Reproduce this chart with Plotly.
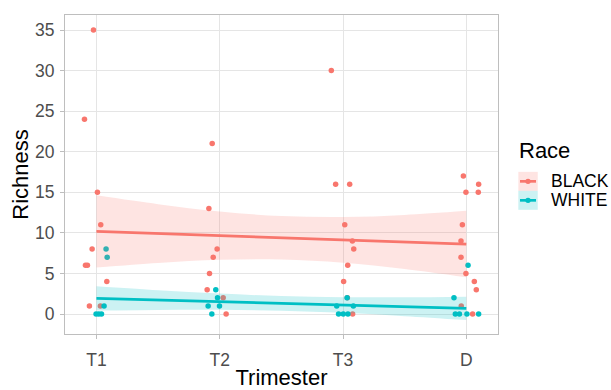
import plotly.graph_objects as go

# ---------------- data ----------------
categories = ["T1", "T2", "T3", "D"]
cat_pos = [1, 2, 3, 4]
y_ticks = [0, 5, 10, 15, 20, 25, 30, 35]

# jittered positions (x) and richness values (y)
black_x = [0.976, 0.903, 1.008, 1.035, 0.965, 0.911, 0.927, 1.084, 0.943, 1.032,
           1.939, 1.912, 1.979, 1.947, 1.917, 1.898, 2.028, 2.052,
           2.905, 2.940, 3.054, 3.014, 3.076, 3.087, 3.038, 3.005, 3.035, 3.078,
           3.976, 4.100, 3.997, 4.097, 3.968, 3.957, 3.957, 3.997, 4.065, 4.081, 3.959, 4.051]
black_y = [35, 24, 15, 11, 8, 6, 6, 4, 1, 1,
           21, 13, 8, 7, 5, 3, 2, 0,
           30, 16, 16, 11, 9, 8, 6, 4, 2, 0,
           17, 16, 15, 15, 11, 9, 7, 5, 4, 3, 1, 0]

white_x = [1.078, 1.087, 1.062, 0.997, 1.019, 1.041,
           1.968, 1.982, 1.906, 1.998, 1.936,
           3.033, 2.949, 3.084, 2.964, 3.002, 3.040,
           4.014, 3.900, 3.911, 3.944, 4.005, 4.100]
white_y = [8, 7, 1, 0, 0, 0,
           3, 2, 1, 1, 0,
           2, 1, 1, 0, 0, 0,
           6, 2, 0, 0, 0, 0]

# linear fit and confidence band
fit_x = [1, 1.5, 2, 2.5, 3, 3.5, 4]
black_fit = [10.18, 9.92, 9.66, 9.40, 9.14, 8.88, 8.62]
black_lo = [5.73, 6.30, 6.68, 6.72, 6.33, 5.55, 4.52]
black_hi = [14.63, 13.54, 12.64, 12.08, 11.95, 12.21, 12.72]
white_fit = [1.93, 1.725, 1.52, 1.315, 1.11, 0.905, 0.70]
white_lo = [0.43, 0.51, 0.53, 0.41, 0.15, -0.26, -0.74]
white_hi = [3.43, 2.94, 2.52, 2.22, 2.08, 2.07, 2.14]

groups = ["BLACK", "WHITE"]

# ---------------- style ----------------
RED = "#F8766D"
TEAL = "#00BFC4"
RED_FILL = "rgba(248,118,109,0.2)"
TEAL_FILL = "rgba(0,191,196,0.2)"
FONT = "Liberation Sans, Arial, Helvetica, sans-serif"
TICK_SIZE = 17.5
TITLE_SIZE = 22

W, H = 611, 390
ML, MR, MT, MB = 65.3, 113, 15, 55.7
PW = W - ML - MR
PH = H - MT - MB


def px2x(px):
    return (px - ML) / PW


def px2y(py):
    return (H - MB - py) / PH


fig = go.Figure()

# points
fig.add_trace(go.Scatter(x=black_x, y=black_y, mode="markers", name=groups[0],
                         marker=dict(color=RED, size=5.5, line=dict(width=0)),
                         showlegend=False))
fig.add_trace(go.Scatter(x=white_x, y=white_y, mode="markers", name=groups[1],
                         marker=dict(color=TEAL, size=5.5, line=dict(width=0)),
                         showlegend=False))

# ribbons + lines
for lo, hi, fill in [(black_lo, black_hi, RED_FILL), (white_lo, white_hi, TEAL_FILL)]:
    fig.add_trace(go.Scatter(x=fit_x, y=lo, mode="lines", line=dict(width=0, shape="spline"),
                             showlegend=False, hoverinfo="skip"))
    fig.add_trace(go.Scatter(x=fit_x, y=hi, mode="lines", line=dict(width=0, shape="spline"),
                             fill="tonexty", fillcolor=fill, showlegend=False, hoverinfo="skip"))
for fit, col in [(black_fit, RED), (white_fit, TEAL)]:
    fig.add_trace(go.Scatter(x=fit_x, y=fit, mode="lines", line=dict(color=col, width=2.7),
                             showlegend=False))

fig.update_layout(
    width=W, height=H,
    margin=dict(l=ML, r=MR, t=MT, b=MB, pad=0),
    plot_bgcolor="white", paper_bgcolor="white",
    font=dict(family=FONT, color="black"),
    showlegend=False,
)

axis_common = dict(showgrid=True, gridcolor="#E5E5E5", gridwidth=1,
                   showline=True, linecolor="#BEBEBE", linewidth=1, mirror=True,
                   ticks="outside", ticklen=4, tickcolor="#BEBEBE", tickwidth=1,
                   zeroline=False, automargin=False,
                   tickfont=dict(size=TICK_SIZE, color="#4D4D4D", family=FONT))

fig.update_xaxes(range=[0.745, 4.257], tickvals=cat_pos, ticktext=categories,
                 ticklabelstandoff=6,
                 title=dict(text="Trimester", font=dict(size=TITLE_SIZE, color="black", family=FONT), standoff=3),
                 **axis_common)
fig.update_yaxes(range=[-2.46, 36.85], tickvals=y_ticks,
                 ticklabelstandoff=2,
                 title=dict(text="Richness", font=dict(size=TITLE_SIZE, color="black", family=FONT), standoff=0),
                 **axis_common)

# ---------------- legend (drawn manually, ggplot style) ----------------
shapes = []
annotations = []
annotations.append(dict(text="Race", x=px2x(517), y=px2y(151), xref="paper", yref="paper",
                        xanchor="left", yanchor="middle", showarrow=False,
                        font=dict(size=TITLE_SIZE, color="black", family=FONT)))
key_rows = [(groups[0], RED, RED_FILL, 172, 191), (groups[1], TEAL, TEAL_FILL, 191, 210)]
for label, col, fill, top, bot in key_rows:
    mid = (top + bot) / 2
    shapes.append(dict(type="rect", xref="paper", yref="paper",
                       x0=px2x(518.3), x1=px2x(537.7), y0=px2y(bot), y1=px2y(top),
                       fillcolor=fill, line=dict(width=0), layer="above"))
    shapes.append(dict(type="line", xref="paper", yref="paper",
                       x0=px2x(520), x1=px2x(536), y0=px2y(mid), y1=px2y(mid),
                       line=dict(color=col, width=2.7), layer="above"))
    shapes.append(dict(type="circle", xref="paper", yref="paper",
                       x0=px2x(525.3), x1=px2x(530.7), y0=px2y(mid + 2.7), y1=px2y(mid - 2.7),
                       fillcolor=col, line=dict(width=0), layer="above"))
    annotations.append(dict(text=label, x=px2x(549), y=px2y(mid), xref="paper", yref="paper",
                            xanchor="left", yanchor="middle", showarrow=False,
                            font=dict(size=TICK_SIZE, color="black", family=FONT)))

fig.update_layout(shapes=shapes, annotations=annotations)

fig.write_html("out.html", config={"displayModeBar": False},
               post_script="document.body.style.margin='0';")
